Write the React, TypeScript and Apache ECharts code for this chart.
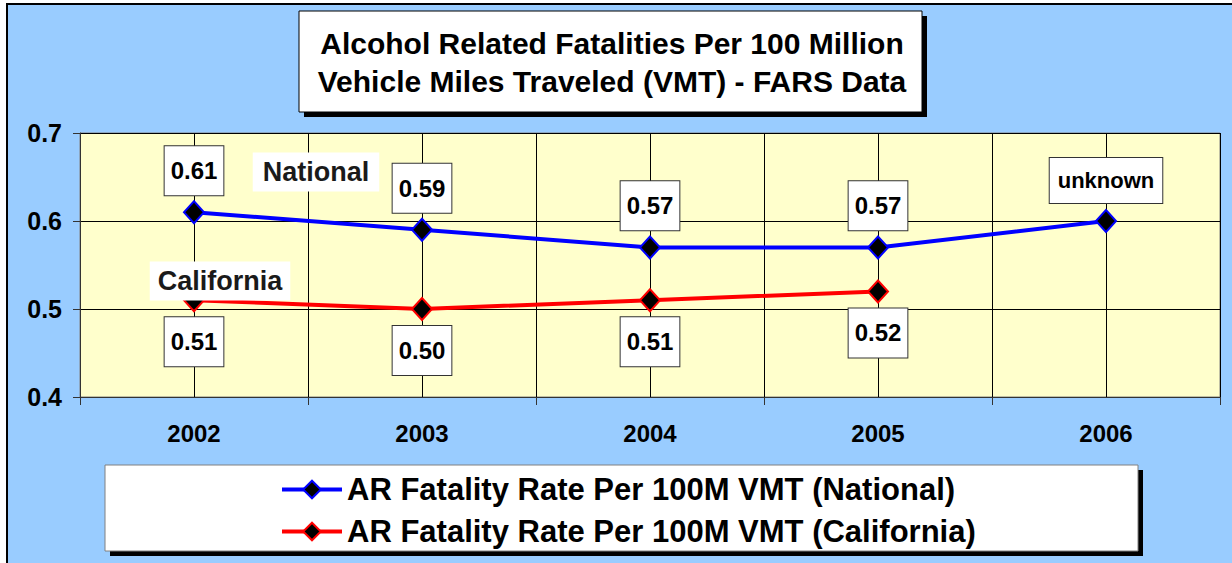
import React, { useEffect, useRef } from 'react';
import * as echarts from 'echarts';

const years = ['2002', '2003', '2004', '2005', '2006'];
const nationalValues = [0.61, 0.59, 0.57, 0.57, 0.6];
const californiaValues: (number | null)[] = [0.51, 0.5, 0.51, 0.52, null];
const nationalLabels = ['0.61', '0.59', '0.57', '0.57', 'unknown'];
const californiaLabels = ['0.51', '0.50', '0.51', '0.52', ''];
const titleLines = ['Alcohol Related Fatalities Per 100 Million', 'Vehicle Miles Traveled (VMT) - FARS Data'];
const seriesNames = ['AR Fatality Rate Per 100M VMT (National)', 'AR Fatality Rate Per 100M VMT (California)'];
const annotationTexts = ['National', 'California'];

const FONT = '"Liberation Sans", Arial, sans-serif';

export default function App() {
  const ref = useRef<HTMLDivElement>(null);
  useEffect(() => {
    if (!ref.current) return;
    const chart = echarts.init(ref.current, undefined, { renderer: 'svg' });

    const baseLabel = {
      show: true,
      distance: 5,
      backgroundColor: '#ffffff',
      borderColor: '#333333',
      borderWidth: 1,
      padding: [12, 6],
      lineHeight: 25,
      fontSize: 24,
      fontWeight: 'bold' as const,
      fontFamily: FONT,
      color: '#000',
    };

    const nationalData = nationalValues.map((v, i) => {
      const txt = nationalLabels[i];
      if (txt === 'unknown') {
        return {
          value: v,
          label: { ...baseLabel, position: 'top', fontSize: 22, lineHeight: 23, padding: [11, 8], distance: 6, formatter: txt },
        };
      }
      return { value: v, label: { ...baseLabel, position: 'top', formatter: txt } };
    });
    const californiaData = californiaValues.map((v, i) => ({
      value: v,
      label: { ...baseLabel, position: 'bottom', formatter: californiaLabels[i] },
    }));

    chart.setOption({
      animation: false,
      backgroundColor: 'transparent',
      textStyle: { fontFamily: FONT },
      grid: {
        left: 80,
        right: 12,
        top: 133,
        bottom: 166,
        show: true,
        backgroundColor: '#FFFFCC',
        borderColor: '#808080',
        borderWidth: 1,
      },
      xAxis: [
        {
          type: 'category',
          data: years,
          boundaryGap: true,
          axisLine: { lineStyle: { color: '#333', width: 1 } },
          axisTick: { show: true, length: 8, lineStyle: { color: '#333' } },
          splitLine: { show: false },
          axisLabel: { fontSize: 24, fontWeight: 'bold', color: '#000', fontFamily: FONT, margin: 24 },
        },
        {
          type: 'value',
          min: 0,
          max: 10,
          interval: 1,
          position: 'bottom',
          axisLine: { show: false },
          axisTick: { show: false },
          axisLabel: { show: false },
          splitLine: { show: true, lineStyle: { color: '#000', width: 1 } },
        },
      ],
      yAxis: {
        type: 'value',
        min: 0.4,
        max: 0.7,
        interval: 0.1,
        axisLine: { show: true, lineStyle: { color: '#333', width: 1 } },
        axisTick: { show: true, length: 7, lineStyle: { color: '#333' } },
        splitLine: { show: true, lineStyle: { color: '#000', width: 1 } },
        axisLabel: {
          fontSize: 25,
          fontWeight: 'bold',
          color: '#000',
          fontFamily: FONT,
          margin: 18,
          formatter: (v: number) => v.toFixed(1),
        },
      },
      legend: {
        orient: 'vertical',
        left: 280,
        top: 474,
        padding: 0,
        itemGap: 11,
        itemWidth: 60,
        itemHeight: 22,
        selectedMode: false,
        lineStyle: { width: 4 },
        textStyle: { fontSize: 31, fontWeight: 'bold', color: '#000', fontFamily: FONT, lineHeight: 30 },
        data: seriesNames,
      },
      series: [
        {
          name: seriesNames[0],
          type: 'line',
          xAxisIndex: 0,
          data: nationalData,
          symbol: 'diamond',
          symbolSize: [20, 22],
          lineStyle: { color: '#0000FF', width: 4 },
          itemStyle: { color: '#000000', borderColor: '#0000FF', borderWidth: 2 },
          z: 5,
        },
        {
          name: seriesNames[1],
          type: 'line',
          xAxisIndex: 0,
          data: californiaData,
          symbol: 'diamond',
          symbolSize: [20, 22],
          lineStyle: { color: '#FF0000', width: 4 },
          itemStyle: { color: '#000000', borderColor: '#FF0000', borderWidth: 2 },
          z: 4,
        },
      ],
      graphic: [
        // title box
        { type: 'rect', z: 10, shape: { x: 304, y: 16, width: 623, height: 101 }, style: { fill: '#000' } },
        { type: 'rect', z: 11, shape: { x: 299, y: 11, width: 623, height: 101 }, style: { fill: '#fff', stroke: '#000', lineWidth: 1 } },
        {
          type: 'text',
          z: 12,
          x: 612,
          y: 62,
          style: {
            text: titleLines.join('\n'),
            align: 'center',
            verticalAlign: 'middle',
            font: `bold 30px ${FONT}`,
            lineHeight: 38,
            fill: '#000',
          },
        },
        // legend box
        { type: 'rect', z: -5, shape: { x: 110, y: 470, width: 1033, height: 86 }, style: { fill: '#000' } },
        { type: 'rect', z: -4, shape: { x: 105, y: 465, width: 1033, height: 86 }, style: { fill: '#fff', stroke: '#808080', lineWidth: 1 } },
        // annotations
        {
          type: 'text',
          z: 100,
          x: 316,
          y: 172,
          style: {
            text: annotationTexts[0],
            align: 'center',
            verticalAlign: 'middle',
            font: `bold 27px ${FONT}`,
            fill: '#1a1a1a',
            backgroundColor: '#fff',
            padding: [6, 10],
          },
        },
        {
          type: 'text',
          z: 100,
          x: 220,
          y: 281,
          style: {
            text: annotationTexts[1],
            align: 'center',
            verticalAlign: 'middle',
            font: `bold 27px ${FONT}`,
            fill: '#1a1a1a',
            backgroundColor: '#fff',
            padding: [6, 8],
          },
        },
      ],
    });
    return () => chart.dispose();
  }, []);

  return (
    <div style={{ position: 'fixed', left: 0, top: 0, width: 1232, height: 563, background: '#fff', overflow: 'hidden' }}>
      <div
        style={{
          position: 'absolute',
          left: 6,
          top: 3,
          width: 1300,
          height: 700,
          background: '#99CCFF',
          border: '2px solid #000',
        }}
      />
      <div ref={ref} style={{ position: 'absolute', left: 0, top: 0, width: 1232, height: 563 }} />
    </div>
  );
}
